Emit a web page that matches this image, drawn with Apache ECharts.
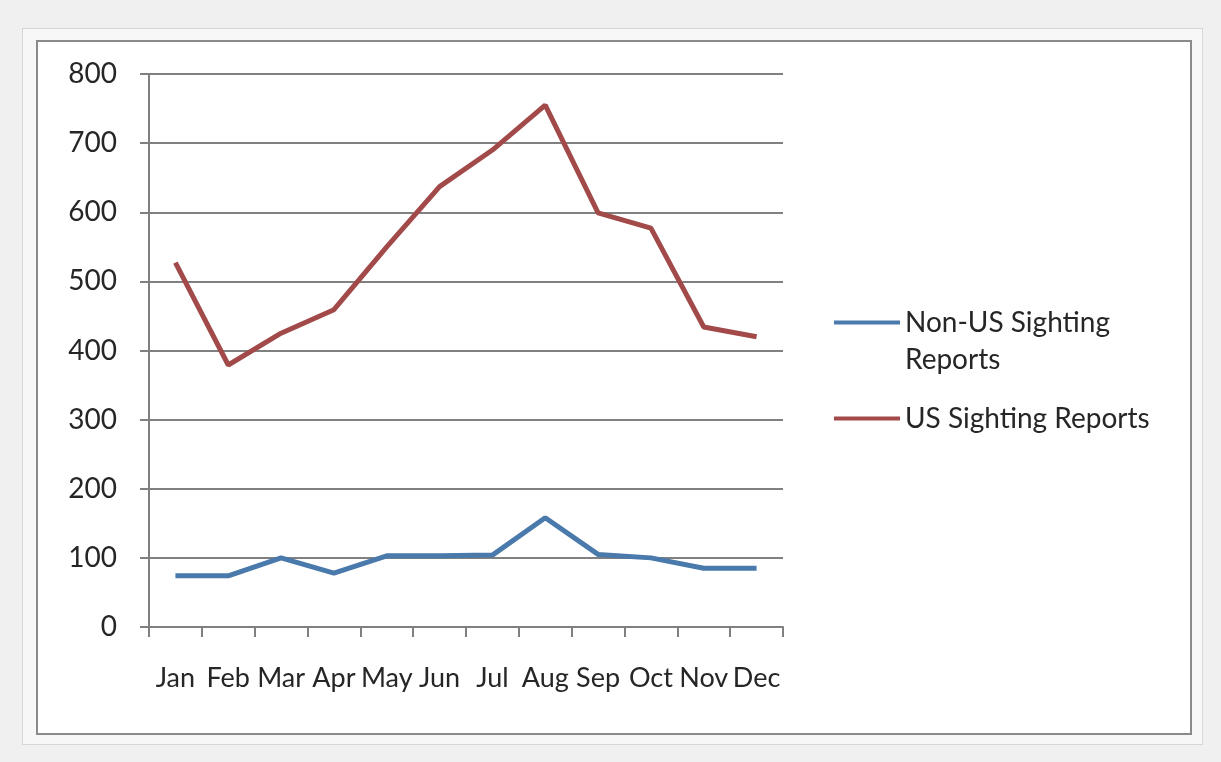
<!DOCTYPE html>
<html>
<head>
<meta charset="utf-8">
<script src="https://cdn.jsdelivr.net/npm/echarts@6/dist/echarts.min.js"></script>
<style>
  html, body { margin: 0; padding: 0; width: 1221px; height: 762px; background: #f0f0f0; overflow: hidden; }
  .outer { position: absolute; left: 22px; top: 28px; width: 1179px; height: 715px; border: 1px solid #d6d6d6; background: #f7f7f7; }
  .inner { position: absolute; left: 36px; top: 40px; width: 1152px; height: 691px; border: 2px solid #8a8a8a; background: #fff; }
  #chart { position: absolute; left: 0; top: 0; width: 1221px; height: 762px; }
</style>
</head>
<body>
<div class="outer"></div>
<div class="inner"></div>
<div id="chart"></div>
<script>
// 月份
var months = ["Jan", "Feb", "Mar", "Apr", "May", "Jun", "Jul", "Aug", "Sep", "Oct", "Nov", "Dec"];
// 非美国目击报告
var nonUsReports = [74, 74, 100, 78, 103, 103, 104, 158, 105, 100, 85, 85];
// 美国目击报告
var usReports = [527, 379, 425, 459, 550, 637, 690, 755, 599, 577, 434, 420];

var fontFamily = "Lato, 'Open Sans', sans-serif";
var MyEcharts = echarts.init(document.getElementById("chart"));

var option = {
  backgroundColor: "transparent",
  animation: false,
  textStyle: { fontFamily: fontFamily },
  grid: { left: 149, right: 438, top: 74, bottom: 135, containLabel: false },
  legend: {
    orient: "vertical",
    left: 829,
    top: 262,
    itemWidth: 66,
    itemHeight: 4,
    itemGap: 22,
    icon: "rect",
    textStyle: { fontSize: 28, color: "#262626", lineHeight: 37, fontFamily: fontFamily },
    // 第一项换行，空行让图标对齐第一行文字
    formatter: function (name) {
      return name === "Non-US Sighting Reports" ? "\nNon-US Sighting\nReports" : name;
    },
    data: ["Non-US Sighting Reports", "US Sighting Reports"]
  },
  xAxis: {
    type: "category",
    data: months,
    boundaryGap: true,
    axisLine: { lineStyle: { color: "#808080", width: 2 } },
    axisTick: { show: true, length: 10, interval: 0, lineStyle: { color: "#808080", width: 2 } },
    axisLabel: { interval: 0, margin: 38, fontSize: 27, color: "#262626", fontFamily: fontFamily }
  },
  yAxis: {
    type: "value",
    min: 0,
    max: 800,
    interval: 100,
    axisLine: { show: true, lineStyle: { color: "#808080", width: 2 } },
    axisTick: { show: true, length: 9, lineStyle: { color: "#808080", width: 2 } },
    axisLabel: { margin: 32, fontSize: 28, color: "#262626", fontFamily: fontFamily },
    splitLine: { show: true, lineStyle: { color: "#808080", width: 2 } }
  },
  series: [
    {
      name: "Non-US Sighting Reports",
      type: "line",
      data: nonUsReports,
      symbol: "none",
      color: "#4a79ab",
      lineStyle: { width: 5, color: "#4a79ab" }
    },
    {
      name: "US Sighting Reports",
      type: "line",
      data: usReports,
      symbol: "none",
      color: "#a24a4a",
      lineStyle: { width: 5, color: "#a24a4a" }
    }
  ]
};

MyEcharts.setOption(option, true);
</script>
</body>
</html>
